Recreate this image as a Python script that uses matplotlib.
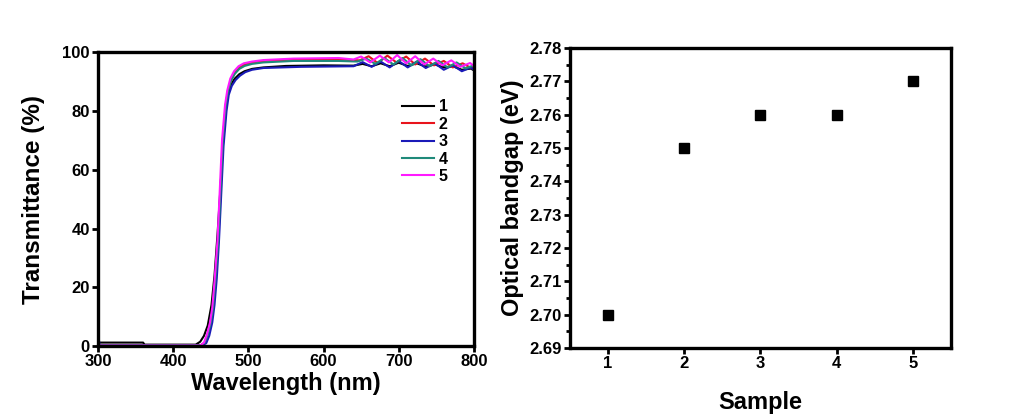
import matplotlib
matplotlib.use("Agg")
import matplotlib.pyplot as plt

plt.rcParams['font.family'] = ['Liberation Sans', 'DejaVu Sans']
plt.rcParams['font.weight'] = 'bold'

# ---- Transmittance data ----
wl_1 = [300, 360, 362, 430, 436, 441, 446, 451, 455, 459, 463, 466, 470, 473, 477, 482, 488, 495, 505, 520, 550, 600, 640,
        652, 664, 676, 688, 700, 712, 724, 736, 748, 760, 772, 784, 796, 800]
t_1 = [1.2, 1.2, 0.5, 0.5, 1.5, 3.5, 7, 14, 24, 38, 54, 68, 80, 86, 89, 91, 92.5, 93.5, 94.3, 94.8, 95.3, 95.5, 95.4,
       96.0, 95.2, 96.2, 95.2, 96.4, 95.3, 96.2, 95.1, 95.8, 94.8, 95.2, 94.0, 94.4, 93.8]

wl_2 = [300, 437, 442, 446, 450, 453, 456, 460, 463, 466, 470, 473, 477, 482, 488, 495, 505, 520, 560, 620, 648,
        660, 672, 685, 697, 710, 722, 735, 747, 760, 772, 785, 797, 800]
t_2 = [0.3, 0.3, 1.2, 4, 8, 13, 22, 36, 53, 70, 82, 87, 90.5, 93, 94.8, 95.8, 96.5, 97.0, 97.5, 97.5, 97.2,
       98.6, 96.3, 98.8, 96.5, 98.5, 95.8, 97.8, 95.5, 97.0, 94.8, 96.2, 94.5, 95.0]

wl_3 = [300, 300.5, 302, 439, 444, 448, 452, 455, 458, 461, 464, 467, 471, 474, 478, 483, 489, 496, 505, 520, 570, 640,
        652, 664, 676, 688, 700, 712, 724, 736, 748, 760, 772, 784, 796, 800]
t_3 = [10, 4, 0.3, 0.3, 1.0, 3.5, 8, 14, 23, 36, 52, 68, 80, 85.5, 88.5, 90.5, 92, 93.2, 94.0, 94.6, 95.0, 95.2,
       96.6, 95.0, 96.8, 94.8, 97.0, 94.8, 96.8, 94.6, 96.2, 94.0, 95.5, 93.5, 94.8, 94.0]

wl_4 = [300, 437, 442, 446, 450, 453, 456, 460, 463, 466, 470, 473, 477, 482, 488, 495, 505, 520, 560, 620, 645,
        657, 669, 681, 693, 705, 717, 729, 741, 753, 765, 777, 789, 800]
t_4 = [0.3, 0.3, 1.2, 4, 8, 13, 22, 36, 53, 70, 82, 87, 90.3, 92.6, 94.3, 95.3, 96.0, 96.5, 97.0, 97.0, 96.8,
       97.8, 96.0, 98.0, 95.8, 98.0, 95.5, 97.6, 95.2, 97.0, 94.8, 96.5, 94.5, 95.5]

wl_5 = [300, 436, 441, 445, 449, 452, 455, 459, 462, 465, 469, 472, 476, 481, 487, 494, 505, 520, 560, 620, 640,
        650, 662, 675, 687, 698, 710, 722, 734, 746, 758, 770, 782, 795, 800]
t_5 = [0.2, 0.2, 1.2, 4, 8, 13, 22, 36, 53, 70, 82, 87, 91, 93.5, 95.2, 96.2, 96.8, 97.3, 97.8, 98.0, 97.5,
       98.5, 96.5, 98.8, 96.5, 99.0, 96.2, 98.6, 95.8, 97.8, 95.5, 97.2, 95.0, 96.3, 95.3]

series_labels = ['1', '2', '3', '4', '5']
series_colors = ['black', '#e8141c', '#1a1ab8', '#1f8a7a', '#ff1aff']

# ---- Bandgap data ----
samples = [1, 2, 3, 4, 5]
bandgap = [2.70, 2.75, 2.76, 2.76, 2.77]
bandgap_ticks = [2.69, 2.70, 2.71, 2.72, 2.73, 2.74, 2.75, 2.76, 2.77, 2.78]

fig = plt.figure(figsize=(10.27, 4.17), dpi=100)

ax1 = fig.add_axes([0.0954, 0.170, 0.366, 0.705])
ax2 = fig.add_axes([0.555, 0.1655, 0.371, 0.7194])

wls = [wl_1, wl_2, wl_3, wl_4, wl_5]
ts = [t_1, t_2, t_3, t_4, t_5]
for w, t, lab, c in zip(wls, ts, series_labels, series_colors):
    ax1.plot(w, t, color=c, lw=1.5, label=lab)

ax1.set_xlim(300, 800)
ax1.set_ylim(0, 100)
ax1.set_xticks([300, 400, 500, 600, 700, 800])
ax1.set_yticks([0, 20, 40, 60, 80, 100])
ax1.set_xlabel('Wavelength (nm)', fontsize=17, fontweight='bold', labelpad=2)
ax1.set_ylabel('Transmittance (%)', fontsize=17.5, fontweight='bold', labelpad=12)

leg = ax1.legend(loc='upper left', bbox_to_anchor=(0.80, 0.85), frameon=False,
                 prop={'size': 11.5, 'weight': 'bold'}, handlelength=2.0,
                 handletextpad=0.3, labelspacing=0.15, borderaxespad=0, borderpad=0.2)

ax2.plot(samples, bandgap, 's', color='black', markersize=7.5, linestyle='none')
ax2.set_xlim(0.5, 5.5)
ax2.set_ylim(2.69, 2.78)
ax2.set_xticks(samples)
ax2.set_yticks(bandgap_ticks)
ax2.set_yticks([2.695 + 0.01 * i for i in range(9)], minor=True)
ax2.set_yticklabels(['%.2f' % v for v in bandgap_ticks])
ax2.set_xlabel('Sample', fontsize=17, fontweight='bold', labelpad=14)
ax2.set_ylabel('Optical bandgap (eV)', fontsize=17, fontweight='bold', labelpad=4)

for ax in (ax1, ax2):
    for sp in ax.spines.values():
        sp.set_linewidth(2.4)
    ax.tick_params(direction='out', length=4, width=2, labelsize=12, pad=2)
    ax.tick_params(which='minor', direction='out', length=3, width=2)
    for lbl in ax.get_xticklabels() + ax.get_yticklabels():
        lbl.set_fontweight('bold')

fig.savefig('out.png', dpi=100)
